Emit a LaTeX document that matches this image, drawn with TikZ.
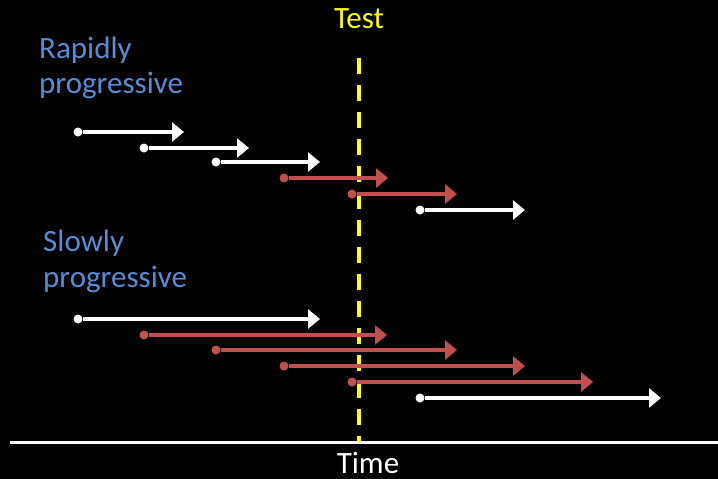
\documentclass[tikz,border=0pt]{standalone}
\usepackage{fontspec}
\setmainfont{Carlito}
\usetikzlibrary{arrows.meta}
\definecolor{ivred}{HTML}{C0504D}
\definecolor{lblblue}{HTML}{558ED5}
\definecolor{testyellow}{HTML}{FFFF00}
\begin{document}
\begin{tikzpicture}[x=1pt,y=-1pt,
  startdot/.style={circle,inner sep=0pt,minimum size=9pt,fill=#1},
  interval/.style={draw=#1,line width=3.8pt,-{Triangle[length=12pt,width=19pt]}},
  grouplabel/.style={anchor=base west,text=lblblue,font=\fontsize{31}{33}\selectfont,inner sep=0pt,align=left},
  plainlabel/.style={anchor=base,font=\fontsize{31}{33}\selectfont,inner sep=0pt}]
  % canvas
  \fill[black] (0,0) rectangle (718,479);
  \useasboundingbox (0,0) rectangle (718,479);

  % labels
  \node[grouplabel] (rapid1) at (39,58) {Rapidly};
  \node[grouplabel] (rapid2) at (39,93) {progressive};
  \node[grouplabel] (slow1) at (43,251) {Slowly};
  \node[grouplabel] (slow2) at (43,287) {progressive};
  \node[plainlabel,text=testyellow] (test) at (359,28) {Test};
  \node[plainlabel,text=white] (time) at (368,473) {Time};

  % time axis
  \coordinate (axL) at (10,442);
  \coordinate (axR) at (718,442);
  \draw[white,line width=3pt] (axL) -- (axR);

  % test moment
  \coordinate (tTop) at (359,58);
  \coordinate (tBot) at (359,442);
  \draw[testyellow,line width=3.5pt,dash pattern=on 16pt off 11pt] (tTop) -- (tBot);

  % rapidly progressive intervals
  \node[startdot=white] (r1) at (78,132) {};   \coordinate (r1e) at (184,132);
  \node[startdot=white] (r2) at (144,148) {};  \coordinate (r2e) at (249,148);
  \node[startdot=white] (r3) at (216,162) {};  \coordinate (r3e) at (320,162);
  \node[startdot=ivred] (r4) at (284,178) {};  \coordinate (r4e) at (388,178);
  \node[startdot=ivred] (r5) at (352,194) {};  \coordinate (r5e) at (457,194);
  \node[startdot=white] (r6) at (420,210) {};  \coordinate (r6e) at (525,210);
  \draw[interval=white] (r1) -- (r1e);
  \draw[interval=white] (r2) -- (r2e);
  \draw[interval=white] (r3) -- (r3e);
  \draw[interval=ivred] (r4) -- (r4e);
  \draw[interval=ivred] (r5) -- (r5e);
  \draw[interval=white] (r6) -- (r6e);

  % slowly progressive intervals
  \node[startdot=white] (s1) at (78,319) {};   \coordinate (s1e) at (320,319);
  \node[startdot=ivred] (s2) at (144,335) {};  \coordinate (s2e) at (387,335);
  \node[startdot=ivred] (s3) at (216,350) {};  \coordinate (s3e) at (457,350);
  \node[startdot=ivred] (s4) at (284,366) {};  \coordinate (s4e) at (525,366);
  \node[startdot=ivred] (s5) at (352,382) {};  \coordinate (s5e) at (593,382);
  \node[startdot=white] (s6) at (420,398) {};  \coordinate (s6e) at (661,398);
  \draw[interval=white] (s1) -- (s1e);
  \draw[interval=ivred] (s2) -- (s2e);
  \draw[interval=ivred] (s3) -- (s3e);
  \draw[interval=ivred] (s4) -- (s4e);
  \draw[interval=ivred] (s5) -- (s5e);
  \draw[interval=white] (s6) -- (s6e);
\end{tikzpicture}
\end{document}
